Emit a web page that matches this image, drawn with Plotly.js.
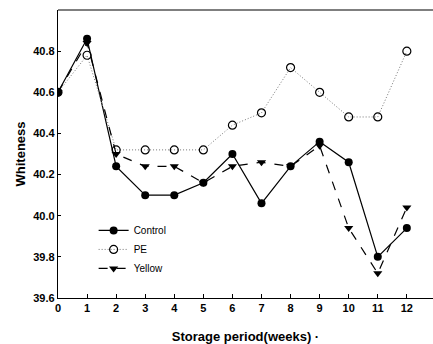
<!DOCTYPE html>
<html>
<head>
<meta charset="utf-8">
<script src="https://cdn.plot.ly/plotly-3.0.1.min.js"></script>
<style>html,body{margin:0;padding:0;background:#fff;}#chart{width:433px;height:344px;}</style>
</head>
<body>
<div id="chart"></div>
<script>
var weeks = [0,1,2,3,4,5,6,7,8,9,10,11,12];
var xTickLabels = ['0','1','2','3','4','5','6','7','8','9','10','11','12'];
var control = [40.60,40.86,40.24,40.10,40.10,40.16,40.30,40.06,40.24,40.36,40.26,39.80,39.94];
var pe      = [40.60,40.78,40.32,40.32,40.32,40.32,40.44,40.50,40.72,40.60,40.48,40.48,40.80];
var yellow  = [40.60,40.84,40.30,40.24,40.24,40.16,40.24,40.26,40.24,40.34,39.94,39.72,40.04];
var yTicks = [39.6,39.8,40.0,40.2,40.4,40.6,40.8];

var traces = [
  {x: weeks, y: control, name: 'Control', mode: 'lines+markers',
   line: {color: '#000', width: 1.2, dash: 'solid'},
   marker: {symbol: 'circle', size: 8, color: '#000'}},
  {x: weeks, y: pe, name: 'PE', mode: 'lines+markers',
   line: {color: '#777', width: 1, dash: '1px,2px'},
   marker: {symbol: 'circle-open', size: 8, color: '#000', line: {width: 1.2, color: '#000'}}},
  {x: weeks, y: yellow, name: 'Yellow', mode: 'lines+markers',
   line: {color: '#000', width: 1.2, dash: 'dash'},
   marker: {symbol: 'triangle-down', size: 8, color: '#000'}}
];

var layout = {
  width: 433, height: 344,
  margin: {l: 58, r: 0, t: 10, b: 46},
  paper_bgcolor: '#fff', plot_bgcolor: '#fff',
  font: {family: 'Liberation Sans, Arial, sans-serif', color: '#000'},
  showlegend: true,
  legend: {x: 0.095, y: 0.285, xanchor: 'left', yanchor: 'top', bgcolor: 'rgba(0,0,0,0)',
           font: {size: 10, family: 'Liberation Sans, Arial, sans-serif'}, tracegroupgap: 0, itemwidth: 30},
  xaxis: {
    range: [0, 12.9], tickvals: weeks, ticktext: xTickLabels,
    showgrid: false, zeroline: false, showline: true, linecolor: '#000', linewidth: 1.2,
    ticks: 'inside', ticklen: 4, tickcolor: '#000',
    tickfont: {size: 11, weight: 'bold'},
    title: {text: 'Storage period(weeks) ·', font: {size: 13, weight: 'bold'}, standoff: 18}
  },
  yaxis: {
    range: [39.6, 41.0], tickvals: yTicks, ticktext: yTicks.map(function(v){return v.toFixed(1);}),
    showgrid: false, zeroline: false, showline: true, linecolor: '#000', linewidth: 1.2,
    ticks: 'inside', ticklen: 3, tickcolor: '#000',
    tickfont: {size: 11, weight: 'bold'},
    title: {text: 'Whiteness', font: {size: 13, weight: 'bold'}, standoff: 4}
  },
  shapes: [{type: 'line', xref: 'paper', yref: 'paper', x0: 0, x1: 1, y0: 1, y1: 1,
            line: {color: '#000', width: 1.2}}]
};
Plotly.newPlot('chart', traces, layout, {staticPlot: true});
</script>
</body>
</html>
